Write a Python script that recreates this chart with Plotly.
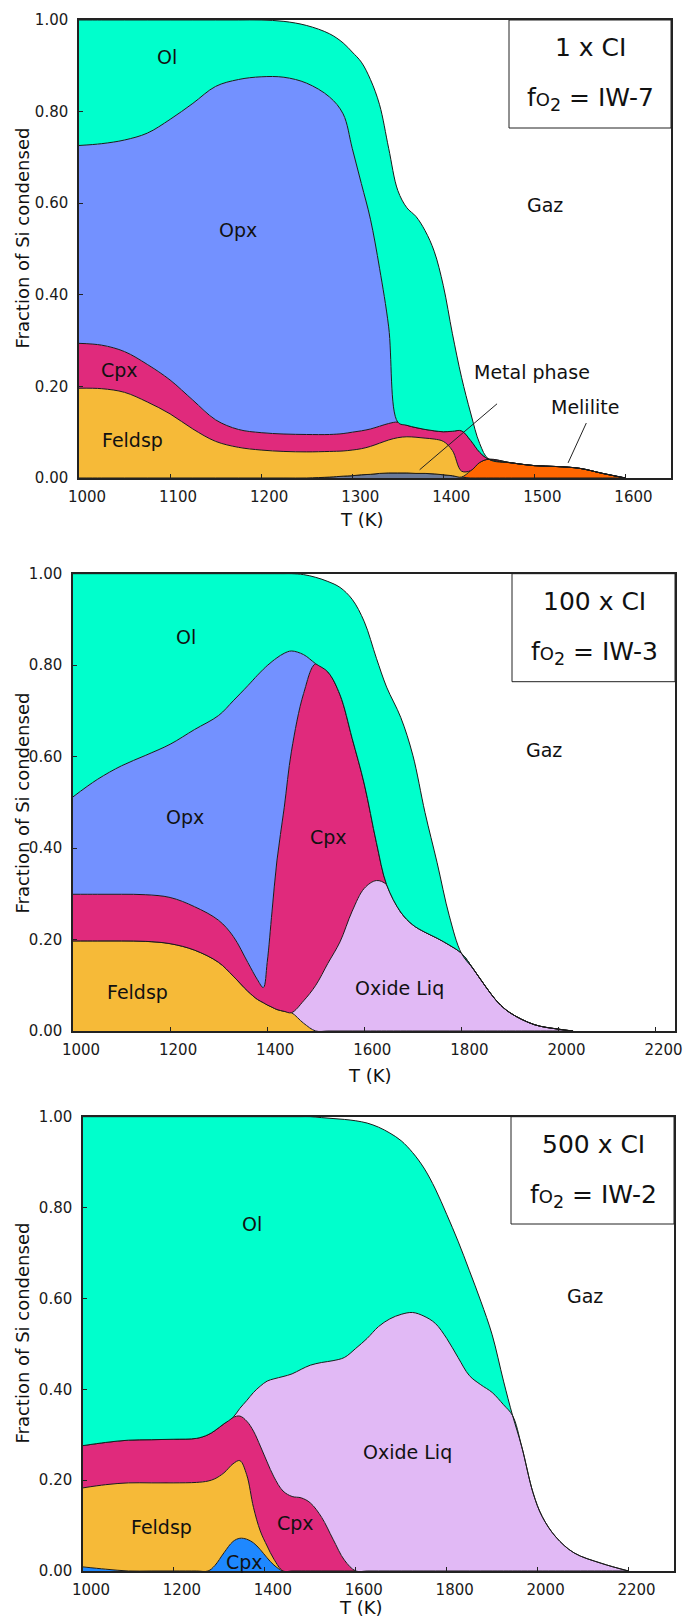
import plotly.graph_objects as go

FONT = "DejaVu Sans"
W, H = 686, 1624

# ---------------- colours ----------------
C_OL = "#00FFCC"
C_OPX = "#7391FF"
C_CPX = "#E02A7C"
C_FELD = "#F6BA38"
C_OXL = "#E1B9F5"
C_MEL = "#FF6600"
C_METAL = "#6B7A99"
C_CPX2 = "#1E88FF"

# ---------------- panel 1 : 1 x CI, IW-7 (cumulative upper boundaries) ----------------
T1 = [1000, 1025, 1050, 1075, 1100, 1125, 1150, 1175, 1200, 1225, 1250, 1275, 1290, 1300,
      1310, 1320, 1330, 1340, 1350, 1360, 1370, 1380, 1390, 1400, 1410, 1420, 1430, 1440,
      1450, 1475, 1500, 1525, 1550, 1575, 1600]
metal_top_1 = [0, 0, 0, 0, 0, 0, 0, 0, 0, 0, 0, 0.002, 0.004, 0.005, 0.007, 0.008, 0.010,
               0.011, 0.011, 0.011, 0.010, 0.010, 0.009, 0.007, 0.005, 0.002, 0, 0, 0, 0, 0,
               0, 0, 0, 0]
mel_top_1 = [0, 0, 0, 0, 0, 0, 0, 0, 0, 0, 0, 0.002, 0.004, 0.005, 0.007, 0.008, 0.010,
             0.011, 0.011, 0.011, 0.010, 0.010, 0.009, 0.007, 0.005, 0.002, 0.016, 0.034,
             0.041, 0.033, 0.027, 0.025, 0.021, 0.010, 0]
feld_top_1 = [0.196, 0.195, 0.187, 0.166, 0.140, 0.107, 0.080, 0.067, 0.061, 0.058, 0.057,
              0.058, 0.059, 0.061, 0.064, 0.069, 0.076, 0.083, 0.088, 0.090, 0.089, 0.087,
              0.085, 0.080, 0.060, 0.015, 0.016, 0.034, 0.041, 0.033, 0.027, 0.025, 0.021,
              0.010, 0]
cpx_top_1 = [0.294, 0.290, 0.276, 0.248, 0.214, 0.170, 0.127, 0.106, 0.099, 0.096, 0.095,
             0.095, 0.097, 0.100, 0.103, 0.107, 0.113, 0.119, 0.122, 0.115, 0.110, 0.106,
             0.103, 0.101, 0.102, 0.103, 0.082, 0.056, 0.041, 0.033, 0.027, 0.025, 0.021,
             0.010, 0]
opx_top_1 = [0.726, 0.730, 0.738, 0.753, 0.783, 0.818, 0.855, 0.870, 0.876, 0.875, 0.862,
             0.832, 0.795, 0.720, 0.643, 0.565, 0.458, 0.330, 0.122, 0.115, 0.110, 0.106,
             0.103, 0.101, 0.102, 0.103, 0.082, 0.056, 0.041, 0.033, 0.027, 0.025, 0.021,
             0.010, 0]
ol_top_1 = [1.0, 1.0, 1.0, 1.0, 1.0, 1.0, 1.0, 1.0, 1.0, 0.997, 0.988, 0.970, 0.950, 0.930,
            0.908, 0.870, 0.815, 0.720, 0.628, 0.590, 0.571, 0.540, 0.495, 0.420, 0.315,
            0.220, 0.142, 0.075, 0.041, 0.033, 0.027, 0.025, 0.021, 0.010, 0]

# ---------------- panel 2 : 100 x CI, IW-3 ----------------
T2 = [1000, 1050, 1100, 1150, 1200, 1250, 1300, 1330, 1360, 1380, 1392, 1400, 1410, 1420,
      1435, 1450, 1475, 1500, 1525, 1550, 1575, 1600, 1625, 1646, 1675, 1700, 1725, 1750,
      1775, 1800, 1825, 1850, 1875, 1900, 1950, 2000, 2030]
feld_top_2 = [0.197, 0.197, 0.197, 0.196, 0.191, 0.177, 0.150, 0.120, 0.087, 0.069, 0.062,
              0.057, 0.052, 0.047, 0.043, 0.040, 0.017, 0, 0, 0, 0, 0, 0, 0, 0, 0, 0, 0, 0,
              0, 0, 0, 0, 0, 0, 0, 0]
oxl_top_2 = [0.197, 0.197, 0.197, 0.196, 0.191, 0.177, 0.150, 0.120, 0.087, 0.069, 0.062,
             0.057, 0.052, 0.047, 0.043, 0.040, 0.066, 0.100, 0.148, 0.195, 0.262, 0.312,
             0.329, 0.320, 0.260, 0.232, 0.216, 0.203, 0.188, 0.170, 0.135, 0.097, 0.063,
             0.040, 0.014, 0.004, 0]
cpx_top_2 = [0.299, 0.299, 0.299, 0.298, 0.292, 0.272, 0.242, 0.207, 0.150, 0.112, 0.095,
             0.150, 0.262, 0.372, 0.488, 0.612, 0.738, 0.803, 0.785, 0.735, 0.640, 0.540,
             0.412, 0.320, 0.260, 0.232, 0.216, 0.203, 0.188, 0.170, 0.135, 0.097, 0.063,
             0.040, 0.014, 0.004, 0]
opx_top_2 = [0.512, 0.550, 0.580, 0.603, 0.627, 0.659, 0.690, 0.722, 0.755, 0.778, 0.791,
             0.799, 0.808, 0.816, 0.826, 0.831, 0.823, 0.803, 0.785, 0.735, 0.640, 0.540,
             0.412, 0.320, 0.260, 0.232, 0.216, 0.203, 0.188, 0.170, 0.135, 0.097, 0.063,
             0.040, 0.014, 0.004, 0]
ol_top_2 = [1.0, 1.0, 1.0, 1.0, 1.0, 1.0, 1.0, 1.0, 1.0, 1.0, 1.0, 1.0, 1.0, 1.0, 1.0, 1.0,
            0.998, 0.992, 0.983, 0.970, 0.944, 0.895, 0.815, 0.752, 0.686, 0.603, 0.478,
            0.368, 0.252, 0.170, 0.135, 0.097, 0.063, 0.040, 0.014, 0.004, 0]

# ---------------- panel 3 : 500 x CI, IW-2 ----------------
T3 = [1000, 1050, 1100, 1150, 1200, 1250, 1275, 1290, 1310, 1330, 1345, 1360, 1375, 1390,
      1405, 1420, 1440, 1460, 1480, 1500, 1525, 1550, 1575, 1600, 1625, 1650, 1675, 1700,
      1725, 1750, 1775, 1800, 1825, 1850, 1875, 1900, 1925, 1945, 1965, 1990, 2010, 2040,
      2080, 2140, 2200]
cpx2_top_3 = [0.009, 0.004, 0, 0, 0, 0, 0, 0.012, 0.040, 0.065, 0.072, 0.070, 0.062, 0.047,
              0.029, 0.013, 0] + [0] * 28
feld_top_3 = [0.183, 0.190, 0.194, 0.194, 0.194, 0.195, 0.198, 0.203, 0.216, 0.236, 0.243,
              0.212, 0.140, 0.088, 0.055, 0.026, 0] + [0] * 28
cpx_top_3 = [0.276, 0.283, 0.288, 0.289, 0.290, 0.292, 0.300, 0.309, 0.324, 0.338, 0.341,
             0.330, 0.308, 0.275, 0.240, 0.207, 0.176, 0.164, 0.161, 0.150, 0.118, 0.070,
             0.024, 0] + [0] * 21
oxl_top_3 = [0.276, 0.283, 0.288, 0.289, 0.290, 0.292, 0.300, 0.309, 0.324, 0.338, 0.358,
             0.375, 0.393, 0.407, 0.418, 0.423, 0.428, 0.434, 0.444, 0.453, 0.459, 0.463,
             0.470, 0.490, 0.512, 0.538, 0.555, 0.565, 0.569, 0.561, 0.545, 0.512, 0.470,
             0.430, 0.410, 0.393, 0.366, 0.342, 0.274, 0.172, 0.120, 0.075, 0.040, 0.017, 0]
ol_top_3 = [1.0] * 20 + [0.998, 0.996, 0.994, 0.991, 0.986, 0.977, 0.964, 0.947, 0.921,
                         0.887, 0.841, 0.785, 0.726, 0.661, 0.594, 0.520, 0.418, 0.342,
                         0.274, 0.172, 0.120, 0.075, 0.040, 0.017, 0]

panels = [
    dict(T=T1, xmax=1650, dtick=100,
         layers=[(metal_top_1, C_METAL), (mel_top_1, C_MEL), (feld_top_1, C_FELD),
                 (cpx_top_1, C_CPX), (opx_top_1, C_OPX), (ol_top_1, C_OL)],
         dom_px=(79, 671, 20, 478)),
    dict(T=T2, xmax=2240, dtick=200,
         layers=[(feld_top_2, C_FELD), (oxl_top_2, C_OXL), (cpx_top_2, C_CPX),
                 (opx_top_2, C_OPX), (ol_top_2, C_OL)],
         dom_px=(73, 675, 573.7, 1031)),
    dict(T=T3, xmax=2300, dtick=200,
         layers=[(cpx2_top_3, C_CPX2), (feld_top_3, C_FELD), (cpx_top_3, C_CPX),
                 (oxl_top_3, C_OXL), (ol_top_3, C_OL)],
         dom_px=(83, 674, 1116.7, 1571)),
]


def pxx(x):
    return x / W


def pxy(y):
    return 1 - y / H


fig = go.Figure()
layout = dict(template="none", width=W, height=H, margin=dict(l=0, r=0, t=0, b=0, pad=0),
              autosize=False, paper_bgcolor="white", plot_bgcolor="white", showlegend=False,
              font=dict(family=FONT, color="#111"))

axis_common = dict(showline=True, linecolor="#222", linewidth=1.5, mirror=True,
                   ticks="inside", ticklen=4, tickwidth=1, tickcolor="#222",
                   showgrid=False, zeroline=False, automargin=False,
                   tickfont=dict(family=FONT, size=15, color="#1a1a1a"))

for i, p in enumerate(panels):
    sfx = "" if i == 0 else str(i + 1)
    xa, ya = "x" + sfx, "y" + sfx
    for j, (vals, col) in enumerate(p["layers"]):
        fig.add_trace(go.Scatter(
            x=p["T"], y=vals, mode="lines", xaxis=xa, yaxis=ya,
            line=dict(color="#1a1a1a", width=1, shape="spline", smoothing=1),
            fill="tozeroy" if j == 0 else "tonexty", fillcolor=col,
            hoverinfo="skip", showlegend=False))
    l, r, t, b = p["dom_px"]
    layout["xaxis" + sfx] = dict(axis_common, domain=[pxx(l), pxx(r)], range=[1000, p["xmax"]],
                                 tick0=1000, dtick=p["dtick"], anchor=ya,
                                 ticklabelshift=8, ticklabelstandoff=4)
    layout["yaxis" + sfx] = dict(axis_common, domain=[pxy(b), pxy(t)], range=[0, 1],
                                 tick0=0, dtick=0.2, tickformat=".2f", anchor=xa,
                                 ticklabelstandoff=6)

fig.update_layout(**layout)


def note(**kw):
    kw.setdefault("showarrow", False)
    kw.setdefault("xanchor", "center")
    kw.setdefault("yanchor", "middle")
    fig.add_annotation(**kw)


# ---------------- phase labels (data coordinates) ----------------
LAB = 19
labels = [
    ("x", "y", 1097, 0.919, "Ol"), ("x", "y", 1175, 0.541, "Opx"),
    ("x", "y", 1045, 0.236, "Cpx"), ("x", "y", 1059, 0.083, "Feldsp"),
    ("x", "y", 1512, 0.595, "Gaz"), ("x", "y", 1497, 0.231, "Metal phase"),
    ("x", "y", 1556, 0.155, "Melilite"),
    ("x2", "y2", 1233, 0.862, "Ol"), ("x2", "y2", 1970, 0.614, "Gaz"),
    ("x2", "y2", 1230, 0.467, "Opx"), ("x2", "y2", 1527, 0.424, "Cpx"),
    ("x2", "y2", 1133, 0.085, "Feldsp"), ("x2", "y2", 1672, 0.094, "Oxide Liq"),
    ("x3", "y3", 1372, 0.764, "Ol"), ("x3", "y3", 2104, 0.605, "Gaz"),
    ("x3", "y3", 1713, 0.262, "Oxide Liq"), ("x3", "y3", 1172, 0.097, "Feldsp"),
    ("x3", "y3", 1468, 0.106, "Cpx"), ("x3", "y3", 1356, 0.020, "Cpx"),
]
for xr, yr, x, y, txt in labels:
    note(x=x, y=y, xref=xr, yref=yr, text=txt,
         font=dict(family=FONT, size=LAB, color="#111"))

# leader lines (panel 1)
fig.add_shape(type="line", xref="x", yref="y", x0=1459, y0=0.162, x1=1374, y1=0.018,
              line=dict(color="#222", width=1))
fig.add_shape(type="line", xref="x", yref="y", x0=1557, y0=0.120, x1=1537, y1=0.033,
              line=dict(color="#222", width=1))

# ---------------- condition boxes ----------------
boxes = [
    (509, 671, 20, 128, "1 x CI", "IW-7"),
    (512, 675, 573.7, 681.7, "100 x CI", "IW-3"),
    (511, 674, 1116.7, 1224, "500 x CI", "IW-2"),
]
for x0, x1, y0, y1, t1, t2 in boxes:
    fig.add_shape(type="rect", xref="paper", yref="paper", x0=pxx(x0), x1=pxx(x1),
                  y0=pxy(y1), y1=pxy(y0), line=dict(color="#222", width=1),
                  fillcolor="rgba(0,0,0,0)", layer="above")
    cx = (x0 + x1) / 2 + 0.5
    note(x=pxx(cx), y=pxy(y0 + 28), xref="paper", yref="paper", text=t1,
         font=dict(family=FONT, size=25, color="#111"))
    note(x=pxx(cx), y=pxy(y0 + 79), xref="paper", yref="paper",
         text="f<span style='font-size:18px'>O</span><sub>2</sub> = " + t2,
         font=dict(family=FONT, size=25, color="#111"))

# ---------------- axis titles ----------------
for yc in (238.5, 803.5, 1333.5):
    note(x=pxx(22), y=pxy(yc), xref="paper", yref="paper",
         text="Fraction of Si condensed", textangle=-90,
         font=dict(family=FONT, size=18, color="#111"))
for xc, yc in ((362, 520), (370, 1075), (361, 1607)):
    note(x=pxx(xc), y=pxy(yc), xref="paper", yref="paper", text="T (K)",
         font=dict(family=FONT, size=18, color="#111"))

fig.write_html("out.html", config={"displayModeBar": False},
               post_script="document.body.style.margin='0';document.body.style.padding='0';")
